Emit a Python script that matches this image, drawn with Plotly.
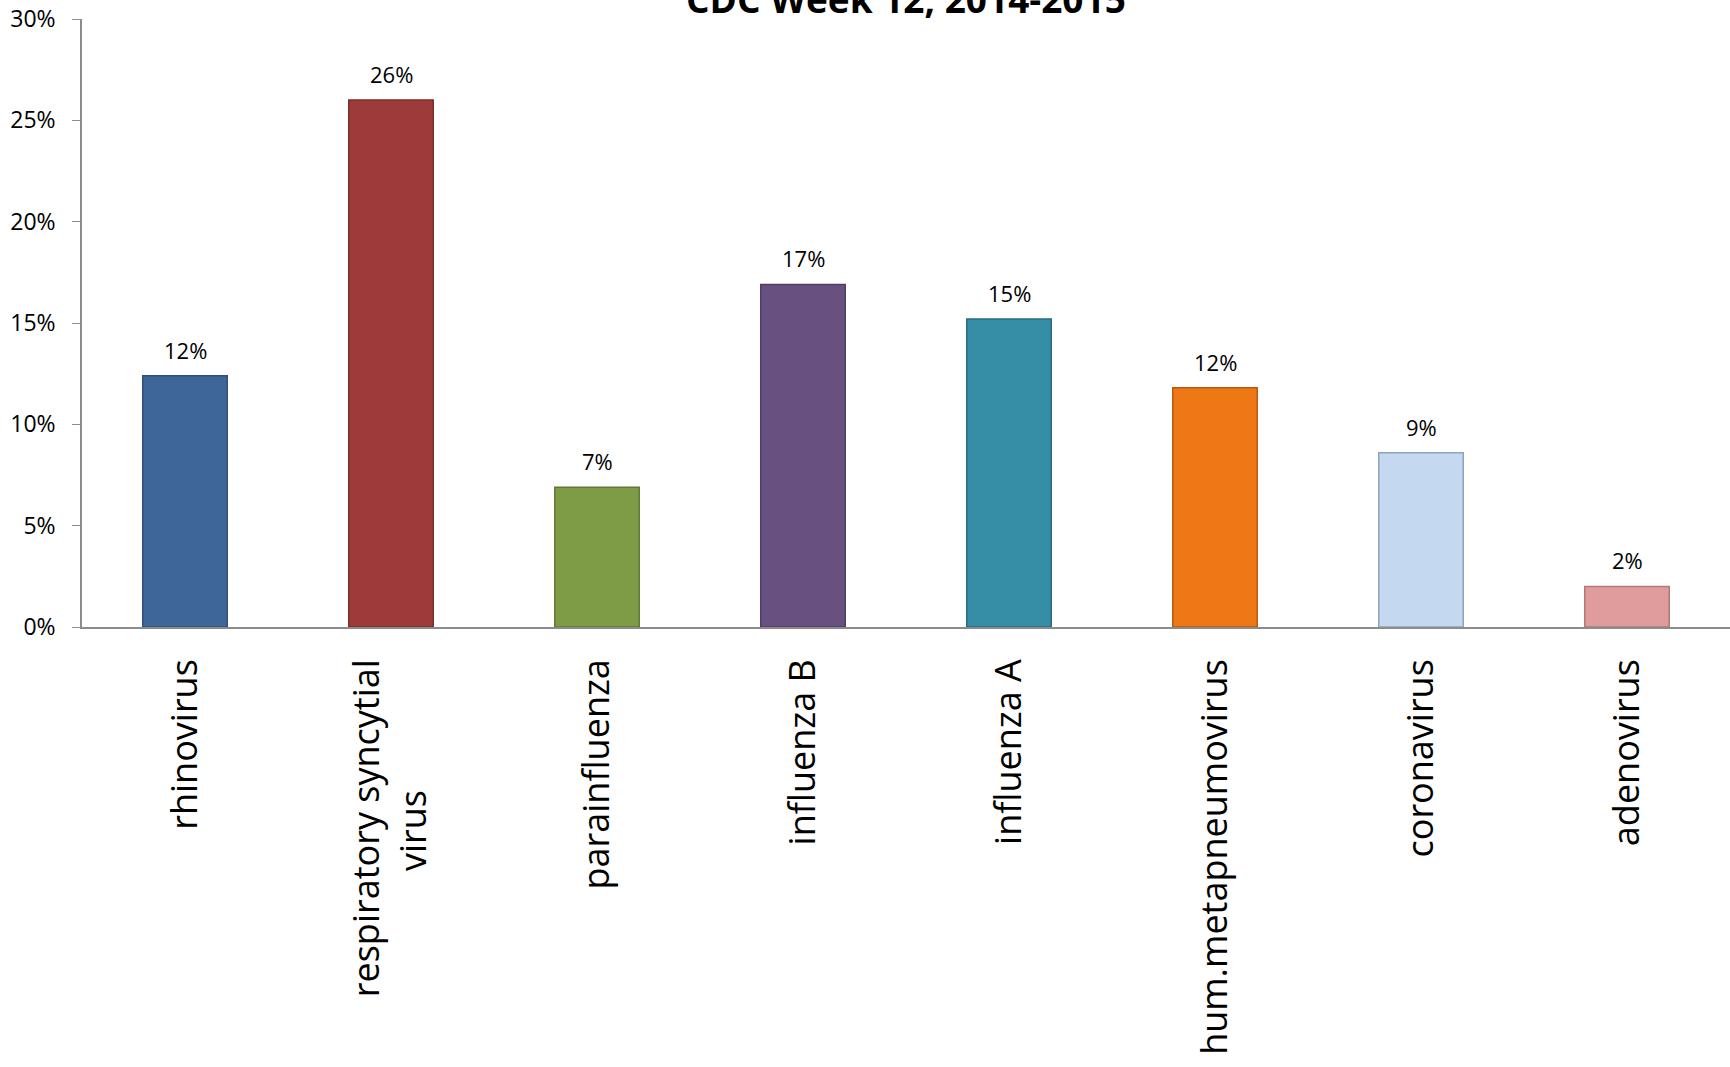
import plotly.graph_objects as go

categories = ["rhinovirus", "respiratory syncytial<br>virus" + "\u00a0" * 14, "parainfluenza", "influenza B",
              "influenza A", "hum.metapneumovirus", "coronavirus", "adenovirus"]
values = [0.124, 0.26, 0.069, 0.169, 0.152, 0.118, 0.086, 0.020]
bar_colors = ["#3E6699", "#9C3B3A", "#7E9C45", "#685081", "#368DA6", "#EE7716", "#C4D8EF", "#E09C9C"]
edge_colors = ["#2F4F78", "#7A2C2B", "#617836", "#4F3C63", "#286C80", "#B85A10", "#8FA3BC", "#B07878"]
y_ticks = [0, 0.05, 0.10, 0.15, 0.20, 0.25, 0.30]
title_text = "CDC Week 12, 2014-2015"

fig = go.Figure(go.Bar(
    x=categories, y=values,
    marker=dict(color=bar_colors, line=dict(color=edge_colors, width=1.5)),
    width=0.41,
    cliponaxis=False,
))

annotations = [dict(text="<b>" + title_text + "</b>", xref="paper", yref="paper",
                    x=0.5, y=1, xanchor="center", yanchor="middle", yshift=21,
                    showarrow=False, font=dict(family="Open Sans", size=37, color="#000000"))]
for c, v in zip(categories, values):
    annotations.append(dict(x=c, y=v, xref="x", yref="y", text=f"{v:.0%}",
                            showarrow=False, yanchor="bottom", yshift=9,
                            font=dict(family="Open Sans", size=22, color="#000000")))

fig.update_layout(
    width=1730, height=1067,
    margin=dict(l=82, r=0, t=19, b=440),
    paper_bgcolor="white", plot_bgcolor="white",
    showlegend=False,
    font=dict(family="Open Sans", color="#000000"),
    annotations=annotations,
)
fig.update_yaxes(
    range=[0, 0.30], tickvals=y_ticks, tickformat=".0%",
    showgrid=False, zeroline=False,
    showline=True, linecolor="#8C8C8C", linewidth=1.5,
    ticks="outside", ticklen=8, tickcolor="#8C8C8C",
    tickfont=dict(family="Open Sans", size=23, color="#000000"),
    ticklabelstandoff=12,
)
fig.update_xaxes(
    showgrid=False, showline=True, linecolor="#8C8C8C", linewidth=1.5,
    ticks="", tickangle=-90,
    tickfont=dict(family="Open Sans", size=36, color="#000000"),
    ticklabelstandoff=16,
)

fig.write_html("out.html")
